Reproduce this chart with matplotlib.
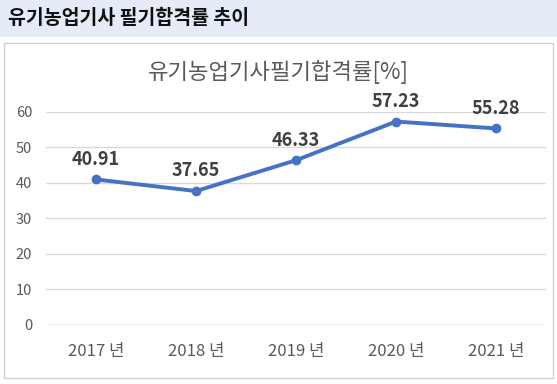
import matplotlib.pyplot as plt
from matplotlib.patches import Rectangle

#Fonts with Korean glyphs
plt.rcParams['font.family'] = ['Noto Sans CJK KR', 'DejaVu Sans']

##########################################
#Data
years = ['2017 년', '2018 년', '2019 년', '2020 년', '2021 년']
pass_rate = [40.91, 37.65, 46.33, 57.23, 55.28]
y_ticks = [0, 10, 20, 30, 40, 50, 60]

header = '유기농업기사 필기합격률 추이'
chart_title = '유기농업기사필기합격률[%]'

line_color = '#4472C4'
grid_color = '#D9D9D9'
text_gray = '#595959'

##########################################
W, H = 557, 384
fig = plt.figure(figsize=[W / 100, H / 100], dpi=100)

#Header band and chart frame
fig.patches.append(Rectangle((0, 1 - 37 / H), 1, 37 / H, transform=fig.transFigure,
                             facecolor='#E6ECF7', edgecolor='none', zorder=0))
fig.patches.append(Rectangle((3.5 / W, 1 - 377.5 / H), 549 / W, 334.5 / H, transform=fig.transFigure,
                             facecolor='white', edgecolor='#D0D0D0', lw=1, zorder=0))
fig.text(8 / W, 1 - 18 / H, header, fontsize=14, fontweight='bold', color='#111111',
         ha='left', va='center')
fig.text(278 / W, 1 - 72 / H, chart_title, fontsize=16, color=text_gray,
         ha='center', va='center')

ax = fig.add_axes([46 / W, (H - 324.7) / H, 500 / W, 213 / H])
ax.set_facecolor('none')
ax.set_zorder(2)

x = list(range(len(years)))
ax.plot(x, pass_rate, color=line_color, lw=2.8, marker='o', markersize=6, zorder=3,
        solid_capstyle='round')
for xi, v in zip(x, pass_rate):
    ax.annotate('%.2f' % v, (xi, v), xytext=(0, 14.5), textcoords='offset points',
                ha='center', va='center', fontsize=13, fontweight='bold', color='#404040')

ax.set_xlim(-0.5, len(years) - 0.5)
ax.set_ylim(0, 60)
ax.set_yticks(y_ticks)
ax.set_yticklabels([str(t) for t in y_ticks], fontsize=10.5, color=text_gray)
ax.set_xticks(x)
ax.set_xticklabels(years, fontsize=12, color=text_gray)
ax.tick_params(axis='y', length=0, pad=10)
ax.tick_params(axis='x', length=0, pad=13)
ax.grid(axis='y', color=grid_color, lw=1, zorder=0)
for s in ax.spines.values():
    s.set_visible(False)
ax.axhline(0, color=grid_color, lw=1, zorder=1)
ax.set_axisbelow(True)

plt.savefig('out.png', dpi=100)
